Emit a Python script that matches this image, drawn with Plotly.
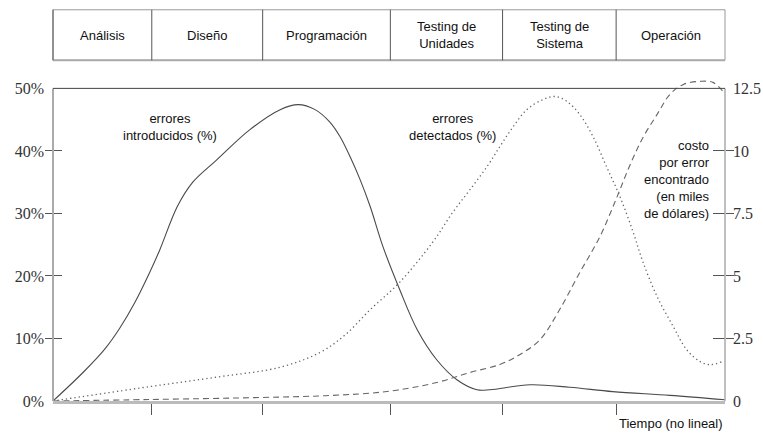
import plotly.graph_objects as go

# ---------------- data ----------------
phases = ["Análisis", "Diseño", "Programación", "Testing de<br>Unidades",
          "Testing de<br>Sistema", "Operación"]
phase_edges = [0, 14.7, 31.2, 50.2, 66.9, 83.8, 100]   # tiempo (no lineal)

t_intro = [0, 4.5, 7.7, 9.9, 12.2, 14.4, 15.9, 18.5, 20.8, 24.4, 29.3, 33.8,
           36.5, 39.0, 41.2, 42.7, 44.2, 45.7, 47.2, 49.1, 51.6, 54.2, 57.1,
           60.1, 63.1, 65.0, 71.0, 76.9, 83.3, 91.8, 100]
errores_introducidos = [0, 4.6, 8.3, 11.6, 15.8, 20.6, 24.2, 31.1, 35.0, 38.6,
                        43.4, 46.6, 47.4, 46.6, 44.6, 42.3, 39.1, 35.4, 31.1,
                        24.7, 17.8, 11.4, 6.6, 3.4, 1.8, 1.8, 2.6, 2.2, 1.5,
                        0.9, 0.2]

t_detect = [0, 14.4, 24.9, 33.8, 39.8, 43.5, 47.2, 51.6, 56.5, 59.5, 62.05, 64.6,
            66.5, 68.5, 70.5, 72.9, 74.7, 76.5, 78.4, 80.4, 82.4, 84.4, 86.3,
            87.8, 89.9, 92.3, 94.3, 96.3, 97.8, 99.6]
errores_detectados = [0, 2.3, 3.9, 5.4, 7.8, 10.6, 14.6, 19.0, 25.4, 30.2, 33.8,
                      37.5, 40.7, 43.9, 46.6, 48.2, 48.7, 47.9, 45.8, 42.2, 37.4,
                      32.6, 27.1, 22.2, 16.7, 11.9, 8.2, 6.3, 5.8, 6.3]

t_costo = [0, 14.4, 30.8, 41.2, 49.7, 57.1, 62.05, 66.5, 69.5, 72.5, 75.4, 78.4,
           81.4, 83.9, 85.9, 87.8, 89.9, 91.8, 93.8, 96.3, 98.2, 99.7]
costo_por_error = [0, 0.06, 0.14, 0.22, 0.38, 0.74, 1.14, 1.46, 1.86, 2.46, 3.66,
                   5.14, 6.58, 8.14, 9.46, 10.54, 11.46, 12.26, 12.66, 12.78,
                   12.74, 12.38]

left_ticks = [0, 10, 20, 30, 40, 50]
left_labels = ["0%", "10%", "20%", "30%", "40%", "50%"]
right_ticks = [0, 2.5, 5, 7.5, 10, 12.5]
right_labels = ["0", "2.5", "5", "7.5", "10", "12.5"]

# ---------------- figure ----------------
XR = [0, 100]
YL = [0, 51.5]
YR = [0, 12.875]

fig = go.Figure()
fig.add_trace(go.Scatter(x=t_intro, y=errores_introducidos, mode="lines",
                         line=dict(color="#4a4a4a", width=1.1, shape="spline",
                                   smoothing=1.0),
                         showlegend=False, hoverinfo="skip"))
fig.add_trace(go.Scatter(x=t_detect, y=errores_detectados, mode="lines",
                         line=dict(color="#666666", width=1.3, shape="spline",
                                   smoothing=1.0, dash="1.3px,3px"),
                         showlegend=False, hoverinfo="skip"))
fig.add_trace(go.Scatter(x=t_costo, y=costo_por_error, mode="lines", yaxis="y2",
                         line=dict(color="#666666", width=1.1, shape="spline",
                                   smoothing=1.0, dash="6px,4px"),
                         showlegend=False, hoverinfo="skip"))
# empty traces so that the tick-only overlay axes are drawn
for ax in ["y3", "y4", "y5", "y6"]:
    fig.add_trace(go.Scatter(x=[], y=[], yaxis=ax, showlegend=False,
                             hoverinfo="skip"))

serif = dict(family="Liberation Serif", size=16, color="#333333")
sans = dict(family="Liberation Sans", size=13, color="#111111")

tick_common = dict(showgrid=False, zeroline=False, showline=False,
                   showticklabels=False, tickcolor="#555555", tickwidth=1,
                   fixedrange=True, automargin=False)

fig.update_layout(
    template="none",
    width=763, height=433, autosize=False,
    margin=dict(l=53, r=38, t=79, b=32),
    paper_bgcolor="white", plot_bgcolor="white",
    xaxis=dict(range=XR, tickvals=phase_edges[1:-1], ticks="outside", ticklen=11,
               tickcolor="#555555", tickwidth=1, showticklabels=False,
               showgrid=False, zeroline=False, showline=True, automargin=False,
               linecolor="#bbbbbb", linewidth=2.5),
    yaxis=dict(range=YL, tickvals=left_ticks, ticktext=left_labels, ticks="",
               tickfont=serif, showgrid=False, zeroline=False, showline=False,
               ticklabelstandoff=8, automargin=False),
    yaxis2=dict(range=YR, overlaying="y", side="right", tickvals=right_ticks,
                ticktext=right_labels, ticks="", tickfont=serif, showgrid=False,
                zeroline=False, showline=False, ticklabelstandoff=7,
                automargin=False),
    yaxis3=dict(range=YL, overlaying="y", side="left", tickvals=left_ticks[1:-1],
                ticks="outside", ticklen=7, **tick_common),
    yaxis4=dict(range=YL, overlaying="y", side="left", tickvals=left_ticks[1:-1],
                ticks="inside", ticklen=9, **tick_common),
    yaxis5=dict(range=YR, overlaying="y", side="right", tickvals=right_ticks[1:-1],
                ticks="outside", ticklen=8, **tick_common),
    yaxis6=dict(range=YR, overlaying="y", side="right", tickvals=right_ticks[1:-1],
                ticks="inside", ticklen=12, **tick_common),
)

# frame (left, right and top borders, up to 50% / 12.5)
top_frac = (50 - YL[0]) / (YL[1] - YL[0])
fig.add_shape(type="line", xref="x domain", yref="y domain", x0=0, x1=0,
              y0=0, y1=top_frac, line=dict(color="#aaaaaa", width=2))
fig.add_shape(type="line", xref="x domain", yref="y domain", x0=1, x1=1,
              y0=0, y1=top_frac, line=dict(color="#aaaaaa", width=1.5))
fig.add_shape(type="line", xref="x domain", yref="y domain", x0=0, x1=1,
              y0=top_frac, y1=top_frac, line=dict(color="#444444", width=1))

# header of phases
def xfrac(v):
    return (v - XR[0]) / (XR[1] - XR[0])

hdr_top, hdr_bot = 1.215, 1.058
fig.add_shape(type="rect", xref="paper", yref="paper", x0=xfrac(phase_edges[0]),
              x1=xfrac(phase_edges[-1]), y0=hdr_bot, y1=hdr_top,
              line=dict(color="#999999", width=1))
fig.add_shape(type="line", xref="paper", yref="paper", x0=xfrac(phase_edges[0]),
              x1=xfrac(phase_edges[-1]), y0=hdr_bot, y1=hdr_bot,
              line=dict(color="#aaaaaa", width=2))
for e in phase_edges[:-1]:
    fig.add_shape(type="line", xref="paper", yref="paper", x0=xfrac(e), x1=xfrac(e),
                  y0=hdr_bot, y1=hdr_top, line=dict(color="#555555", width=1))
for i, name in enumerate(phases):
    mid = (phase_edges[i] + phase_edges[i + 1]) / 2
    fig.add_annotation(x=xfrac(mid), y=(hdr_top + hdr_bot) / 2, xref="paper",
                       yref="paper", xanchor="center", yanchor="middle",
                       text=name, showarrow=False, font=sans, align="center")

# labels
fig.add_annotation(x=17.4, y=43.8, text="errores<br>introducidos (%)",
                   showarrow=False, font=sans, align="center",
                   xanchor="center", yanchor="middle")
fig.add_annotation(x=59.5, y=43.8, text="errores<br>detectados (%)",
                   showarrow=False, font=sans, align="center",
                   xanchor="center", yanchor="middle")
fig.add_annotation(x=98.0, y=35.4,
                   text="costo<br>por error<br>encontrado<br>(en miles<br>de dólares)",
                   showarrow=False, font=sans, align="right", xanchor="right",
                   yanchor="middle")
fig.add_annotation(x=1, y=0, xref="paper", yref="paper", xanchor="right",
                   yanchor="top", yshift=-13, text="Tiempo (no lineal)",
                   showarrow=False, font=dict(family="Liberation Sans", size=13,
                                              color="#111111"))

post = ("document.documentElement.style.overflow='hidden';"
        "document.body.style.margin='0';document.body.style.overflow='hidden';"
        "var gd=document.getElementById('{plot_id}');"
        "Plotly.relayout(gd,{width:763,height:433});")
fig.write_html("out.html", post_script=post,
               config={"displayModeBar": False, "staticPlot": True})
